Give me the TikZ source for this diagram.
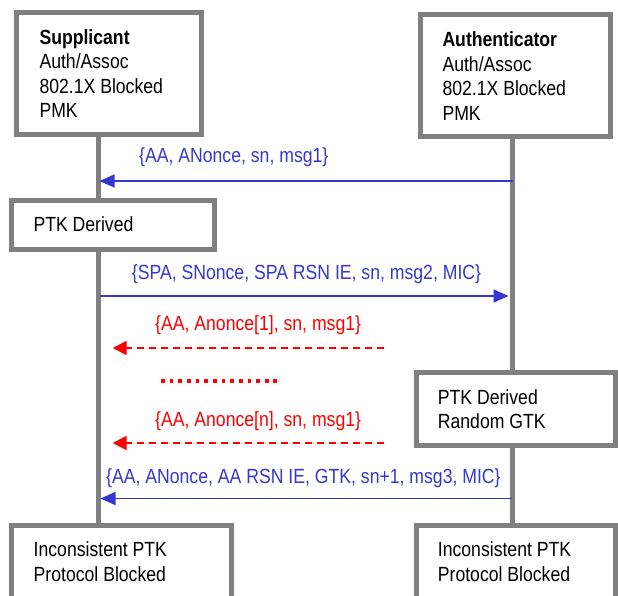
\documentclass[tikz,border=0pt]{standalone}
\usepackage{fontspec}
\setmainfont[FakeStretch=0.86]{Liberation Sans}
\usetikzlibrary{arrows.meta}
\definecolor{framegray}{RGB}{128,128,128}
\definecolor{msgblue}{RGB}{55,55,205}
\definecolor{msgred}{RGB}{255,0,0}
\begin{document}
\begin{tikzpicture}[x=1pt,y=-1pt,
  frame/.style={draw=framegray,line width=5pt,fill=white,inner sep=0pt,outer sep=0pt},
  lifeline/.style={draw=framegray,line width=5pt},
  boxtext/.style={anchor=north west,inner sep=0pt,align=left,font=\fontsize{20.5}{24.5}\selectfont},
  msgtext/.style={anchor=base west,inner sep=0pt,font=\fontsize{20.5}{24.5}\selectfont},
  bluemsg/.style={draw=msgblue,line width=1.8pt,-{Triangle[length=15pt,width=13pt]},fill=msgblue},
  redmsg/.style={draw=msgred,line width=2.2pt,dash pattern=on 7pt off 5pt,-{Triangle[length=14pt,width=14pt]},fill=msgred},
  reddots/.style={draw=msgred,line width=3.8pt,dash pattern=on 3.8pt off 4.85pt}
]
\useasboundingbox (0,0) rectangle (618,596);
\clip (0,0) rectangle (618,596);

% lifeline positions
\coordinate (lx) at (98,0);
\coordinate (rx) at (512.5,0);

% boxes
\path
  (109,73.5)      node[frame,minimum width=185pt,minimum height=122pt] (sup) {}
  (515,76)        node[frame,minimum width=190pt,minimum height=122pt] (auth) {}
  (112.5,224.75)  node[frame,minimum width=203pt,minimum height=48.5pt] (ptkL) {}
  (515.75,408.5)  node[frame,minimum width=199.5pt,minimum height=73pt] (ptkR) {}
  (121,582.5)     node[frame,minimum width=220pt,minimum height=115pt] (incL) {}
  (515.75,582.5)  node[frame,minimum width=199.5pt,minimum height=115pt] (incR) {};

% lifelines between the boxes
\draw[lifeline] (sup.south -| lx) -- (ptkL.north -| lx);
\draw[lifeline] (ptkL.south -| lx) -- (incL.north -| lx);
\draw[lifeline] (auth.south -| rx) -- (ptkR.north -| rx);
\draw[lifeline] (ptkR.south -| rx) -- (incR.north -| rx);

% box texts
\node[boxtext] (suptext) at (39.3,27.15)
  {\strut\textbf{Supplicant}\\\strut Auth/Assoc\\\strut 802.1X Blocked\\\strut PMK};
\node[boxtext] (authtext) at (442.3,29.55)
  {\strut\textbf{Authenticator}\\\strut Auth/Assoc\\\strut 802.1X Blocked\\\strut PMK};
\node[boxtext] (ptkLtext) at (33.3,214.55) {\strut PTK Derived};
\node[boxtext] (ptkRtext) at (437.7,386.85)
  {\strut PTK Derived\\\strut Random GTK};
\node[boxtext] (incLtext) at (33.5,539.55)
  {\strut Inconsistent PTK\\\strut Protocol Blocked};
\node[boxtext] (incRtext) at (437.7,539.55)
  {\strut Inconsistent PTK\\\strut Protocol Blocked};

% message end points on the lifelines
\coordinate (m1a) at (513,181);   \coordinate (m1b) at (99.5,181);
\coordinate (m2a) at (100,296);   \coordinate (m2b) at (508.5,296);
\coordinate (r1a) at (384.3,348); \coordinate (r1b) at (112.7,348);
\coordinate (d1a) at (161,380.7); \coordinate (d1b) at (277,380.7);
\coordinate (rna) at (384.3,443); \coordinate (rnb) at (112.7,443);
\coordinate (m3a) at (512,498.5); \coordinate (m3b) at (100.5,498.5);

% messages
\draw[bluemsg] (m1a) -- (m1b);
\node[msgtext,text=msgblue] (m1lab) at (139,163) {\{AA, ANonce, sn, msg1\}};

\draw[bluemsg] (m2a) -- (m2b);
\node[msgtext,text=msgblue] (m2lab) at (131.7,279) {\{SPA, SNonce, SPA RSN IE, sn, msg2, MIC\}};

\draw[redmsg] (r1a) -- (r1b);
\node[msgtext,text=msgred] (r1lab) at (155,330) {\{AA, Anonce[1], sn, msg1\}};

\draw[reddots] (d1a) -- (d1b);

\draw[redmsg] (rna) -- (rnb);
\node[msgtext,text=msgred] (rnlab) at (155,426) {\{AA, Anonce[n], sn, msg1\}};

\draw[bluemsg] (m3a) -- (m3b);
\node[msgtext,text=msgblue] (m3lab) at (106,483.3) {\{AA, ANonce, AA RSN IE, GTK, sn+1, msg3, MIC\}};
\end{tikzpicture}
\end{document}
